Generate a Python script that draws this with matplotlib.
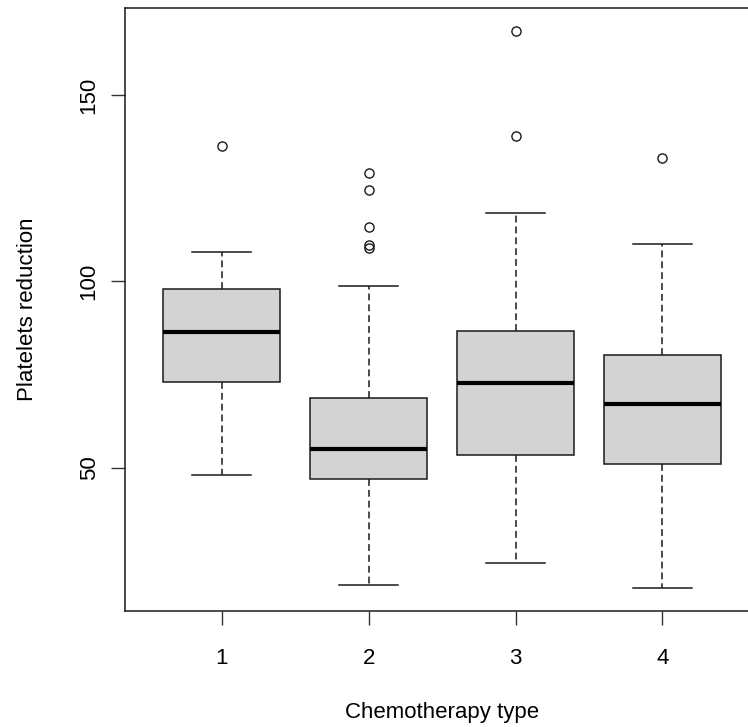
import matplotlib
matplotlib.use("Agg")
import matplotlib.pyplot as plt

# Summary statistics (R-style boxplot)
groups = ["1", "2", "3", "4"]
medians = [86.3, 54.9, 72.6, 67.0]
q1 = [72.9, 46.9, 53.3, 50.9]
q3 = [97.9, 68.7, 86.6, 80.2]
whislo = [48.1, 18.5, 24.5, 17.6]
whishi = [107.9, 98.8, 118.4, 110.0]
fliers = [
    [136.4],
    [129.2, 124.4, 114.7, 109.8, 108.9],
    [167.3, 138.9],
    [133.2],
]
yticks = [50, 100, 150]

plt.rcParams["font.family"] = ["Liberation Sans", "DejaVu Sans"]

W, H = 748, 727
fig = plt.figure(figsize=(W / 100, H / 100), dpi=100)
fig.patch.set_facecolor("white")

# axes box: left edge at x=124.7px, right edge runs past the image
left, right = 124.7, 759.4
top, bottom = 8.4, 610.6
ax = fig.add_axes([left / W, 1 - bottom / H, (right - left) / W, (bottom - top) / H])

stats = []
for i, g in enumerate(groups):
    stats.append(dict(label=g, med=medians[i], q1=q1[i], q3=q3[i],
                      whislo=whislo[i], whishi=whishi[i], fliers=fliers[i]))

positions = list(range(1, len(groups) + 1))
ax.bxp(stats, positions=positions, widths=0.8, patch_artist=True,
       showfliers=True,
       boxprops=dict(facecolor="#d3d3d3", edgecolor="#1a1a1a", linewidth=1.1),
       medianprops=dict(color="black", linewidth=3.0, solid_capstyle="butt"),
       whiskerprops=dict(color="#1a1a1a", linewidth=1.1, linestyle=(0, (4.5, 2.6))),
       capprops=dict(color="#1a1a1a", linewidth=1.1),
       capwidths=0.4,
       flierprops=dict(marker="o", markerfacecolor="none", markeredgecolor="#1a1a1a",
                       markersize=6.6, markeredgewidth=1.0))

# R-like limits: 4% padding around the data range
n = len(groups)
xpad = 0.04 * n
ax.set_xlim(0.5 - xpad, n + 0.5 + xpad)
all_vals = whislo + whishi + [v for f in fliers for v in f]
lo, hi = min(all_vals), max(all_vals)
ypad = 0.04 * (hi - lo)
ax.set_ylim(lo - ypad, hi + ypad)

ax.set_xticks(positions)
ax.set_xticklabels(groups, fontsize=16)
ax.set_yticks(yticks)
ax.set_yticklabels([str(t) for t in yticks], fontsize=16, rotation=90, va="center")

for s in ax.spines.values():
    s.set_linewidth(1.1)
    s.set_color("#1a1a1a")

ax.tick_params(axis="both", direction="out", length=10, width=1.0, color="#333333")
ax.tick_params(axis="x", pad=17)
ax.tick_params(axis="y", pad=8)

ax.set_xlabel("Chemotherapy type", fontsize=16, labelpad=24)
ax.set_ylabel("Platelets reduction", fontsize=16, labelpad=29)

fig.savefig("out.png", dpi=100, facecolor="white")
